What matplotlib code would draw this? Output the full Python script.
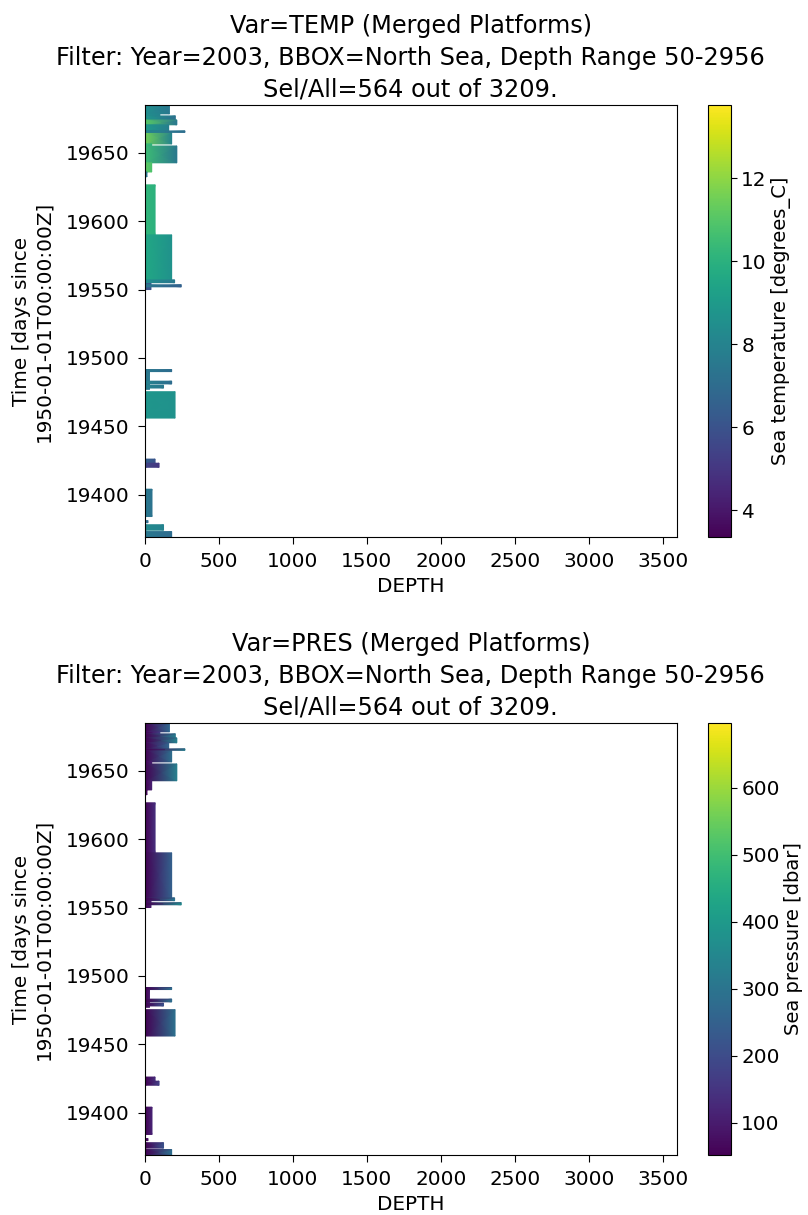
import numpy as np
import matplotlib
matplotlib.use("Agg")
import matplotlib.pyplot as plt
from matplotlib.colors import Normalize

# profile blocks: time span (days since 1950-01-01), max depth, end-point values
t_start = [19678.5, 19677, 19674, 19670.5, 19666, 19656.5, 19655, 19642.7, 19636, 19632.5,
           19590, 19557, 19550, 19555, 19552, 19477, 19490, 19481, 19478, 19456,
           19423, 19420, 19384, 19379.5, 19374, 19369, 19665]
t_end = [19685, 19678.5, 19677, 19674, 19670.5, 19665, 19656.5, 19655, 19642.7, 19636,
         19626.6, 19590, 19555, 19557, 19553.5, 19490, 19491.5, 19483, 19480, 19475.3,
         19426, 19423, 19404, 19381, 19378, 19373, 19666]
depth_max = [165, 100, 205, 215, 160, 180, 45, 215, 45, 13,
             68, 180, 40, 200, 245, 30, 180, 180, 125, 203,
             68, 95, 47, 20, 125, 180, 270]
temp_top = [8.5, 8.5, 8.8, 11.0, 9.0, 11.5, 10.5, 10.5, 11.2, 7.5,
            10.2, 9.6, 6.0, 8.5, 7.5, 7.5, 7.5, 8.0, 8.0, 8.8,
            6.5, 5.5, 7.5, 7.0, 8.3, 7.5, 8.0]
temp_bot = [7.5, 8.0, 7.2, 7.5, 7.8, 8.0, 10.0, 7.5, 10.8, 7.5,
            10.0, 8.6, 6.0, 7.5, 6.5, 7.5, 7.0, 7.0, 7.5, 8.6,
            6.0, 5.0, 7.3, 7.0, 8.0, 7.0, 7.0]
pres_top = [52] * len(t_start)
pres_bot = [265, 180, 320, 330, 260, 285, 110, 330, 110, 70,
            140, 250, 100, 300, 360, 95, 285, 285, 215, 290,
            140, 175, 115, 80, 215, 285, 330]

temp_range = (3.35, 13.76)
pres_range = (52, 697)

title_tpl = ("Var={} (Merged Platforms)\n"
             "Filter: Year=2003, BBOX=North Sea, Depth Range 50-2956\n"
             "Sel/All=564 out of 3209.")

plt.rcParams['font.family'] = ['DejaVu Sans']
plt.rcParams['font.size'] = 14.4
plt.rcParams['xtick.major.size'] = 5
plt.rcParams['ytick.major.size'] = 5
plt.rcParams['xtick.major.pad'] = 6
plt.rcParams['ytick.major.pad'] = 6

fig = plt.figure(figsize=(8.08, 12.15), dpi=100)


def draw_panel(rect, cax_rect, var, top_vals, bot_vals, vrange, cb_label):
    ax = fig.add_axes(rect)
    cax = fig.add_axes(cax_rect)
    norm = Normalize(*vrange)
    mesh = None
    for t0, t1, d, c0, c1 in zip(t_start, t_end, depth_max, top_vals, bot_vals):
        X = np.array([[0, d], [0, d]])
        Y = np.array([[t0, t0], [t1, t1]])
        C = np.array([[c0, c1], [c0, c1]])
        mesh = ax.pcolormesh(X, Y, C, shading='gouraud', cmap='viridis', norm=norm)
    ax.set_xlim(0, 3595)
    ax.set_ylim(19369, 19685)
    ax.set_xticks(np.arange(0, 3501, 500))
    ax.set_yticks([19400, 19450, 19500, 19550, 19600, 19650])
    ax.set_xlabel("DEPTH", labelpad=4)
    ax.set_ylabel("Time [days since\n1950-01-01T00:00:00Z]", labelpad=9)
    ax.set_title(title_tpl.format(var), fontsize=17.3, linespacing=1.4)
    cb = fig.colorbar(mesh, cax=cax)
    cb.ax.tick_params(pad=3.5, size=4)
    cb.set_label(cb_label, labelpad=3, fontsize=14)
    return ax, cb


ax1, cb1 = draw_panel([0.1795, 0.558, 0.658, 0.3556], [0.876, 0.558, 0.0285, 0.3556],
                      "TEMP", temp_top, temp_bot, temp_range, "Sea temperature [degrees_C]")
cb1.set_ticks([4, 6, 8, 10, 12])
ax2, cb2 = draw_panel([0.1795, 0.0494, 0.658, 0.3556], [0.876, 0.0494, 0.0285, 0.3556],
                      "PRES", pres_top, pres_bot, pres_range, "Sea pressure [dbar]")
cb2.set_ticks([100, 200, 300, 400, 500, 600])

fig.savefig("out.png", dpi=100)
